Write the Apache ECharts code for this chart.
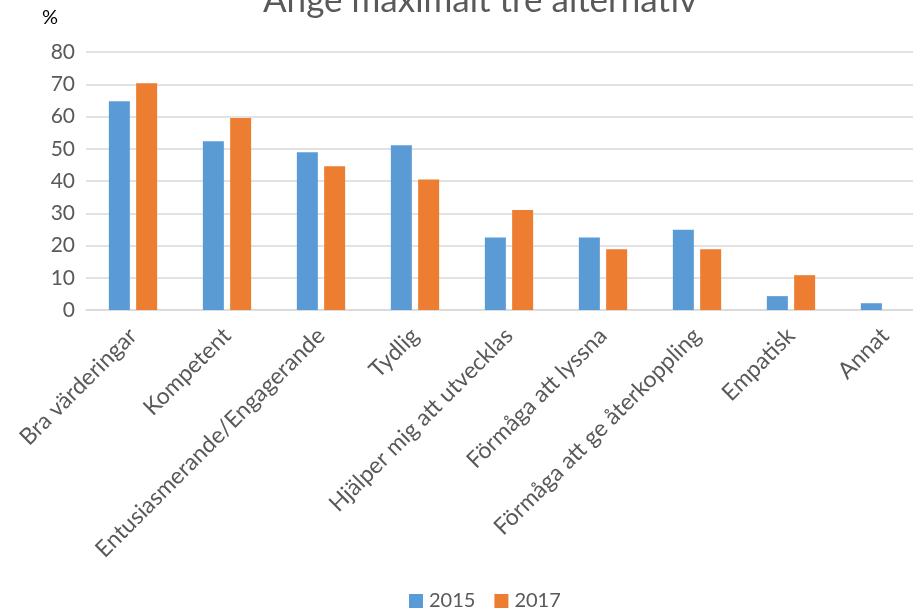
<!DOCTYPE html>
<html>
<head>
<meta charset="utf-8">
<script src="https://cdn.jsdelivr.net/npm/echarts@6/dist/echarts.min.js"></script>
<style>
html, body { margin: 0; padding: 0; background: #fff; }
#container { width: 913px; height: 613px; }
</style>
</head>
<body>
<div id="container"></div>
<script>
var categories = ['Bra värderingar', 'Kompetent', 'Entusiasmerande/Engagerande', 'Tydlig',
    'Hjälper mig att utvecklas', 'Förmåga att lyssna', 'Förmåga att ge återkoppling', 'Empatisk', 'Annat'];
var values2015 = [64.7, 52.3, 48.9, 51.1, 22.5, 22.5, 24.9, 4.3, 2.1];
var values2017 = [70.3, 59.5, 44.6, 40.5, 31.0, 18.8, 18.8, 10.8, null];
var seriesNames = ['2015', '2017'];

var font = 'Lato';
var grey = '#595959';

var myChart = echarts.init(document.getElementById('container'));
var option = {
    animation: false,
    color: ['#5b9bd5', '#ed7d31'],
    title: {
        text: 'Ange maximalt tre alternativ',
        left: 258,
        top: -22,
        textStyle: { color: grey, fontFamily: font, fontSize: 35, fontWeight: 'normal' }
    },
    legend: {
        bottom: -3,
        left: 404,
        itemWidth: 14,
        itemHeight: 14,
        itemGap: 19,
        icon: 'rect',
        textStyle: { color: grey, fontFamily: font, fontSize: 20, padding: [0, 0, 0, 1] },
        data: seriesNames
    },
    grid: {
        left: 86, width: 846, top: 52, bottom: 303,
        containLabel: false, outerBoundsMode: 'none'
    },
    xAxis: {
        type: 'category',
        data: categories,
        axisLine: { show: true, lineStyle: { color: '#d9d9d9', width: 1.5 } },
        axisTick: { show: false },
        axisLabel: {
            interval: 0,
            rotate: 45,
            margin: 22,
            color: grey,
            fontFamily: font,
            fontSize: 23
        }
    },
    yAxis: {
        type: 'value',
        name: '%',
        nameLocation: 'end',
        nameGap: 24,
        nameTextStyle: { color: '#000', fontFamily: font, fontSize: 20, align: 'right', padding: [0, 28, 0, 0] },
        min: 0,
        max: 80,
        interval: 10,
        axisLine: { show: false },
        axisTick: { show: false },
        axisLabel: { color: grey, fontFamily: font, fontSize: 21, margin: 11 },
        splitLine: { lineStyle: { color: '#d9d9d9', width: 1.5 } }
    },
    series: [
        { name: seriesNames[0], type: 'bar', data: values2015, barWidth: 21, barGap: '30%' },
        { name: seriesNames[1], type: 'bar', data: values2017, barWidth: 21, barGap: '30%' }
    ]
};
myChart.setOption(option);
</script>
</body>
</html>
